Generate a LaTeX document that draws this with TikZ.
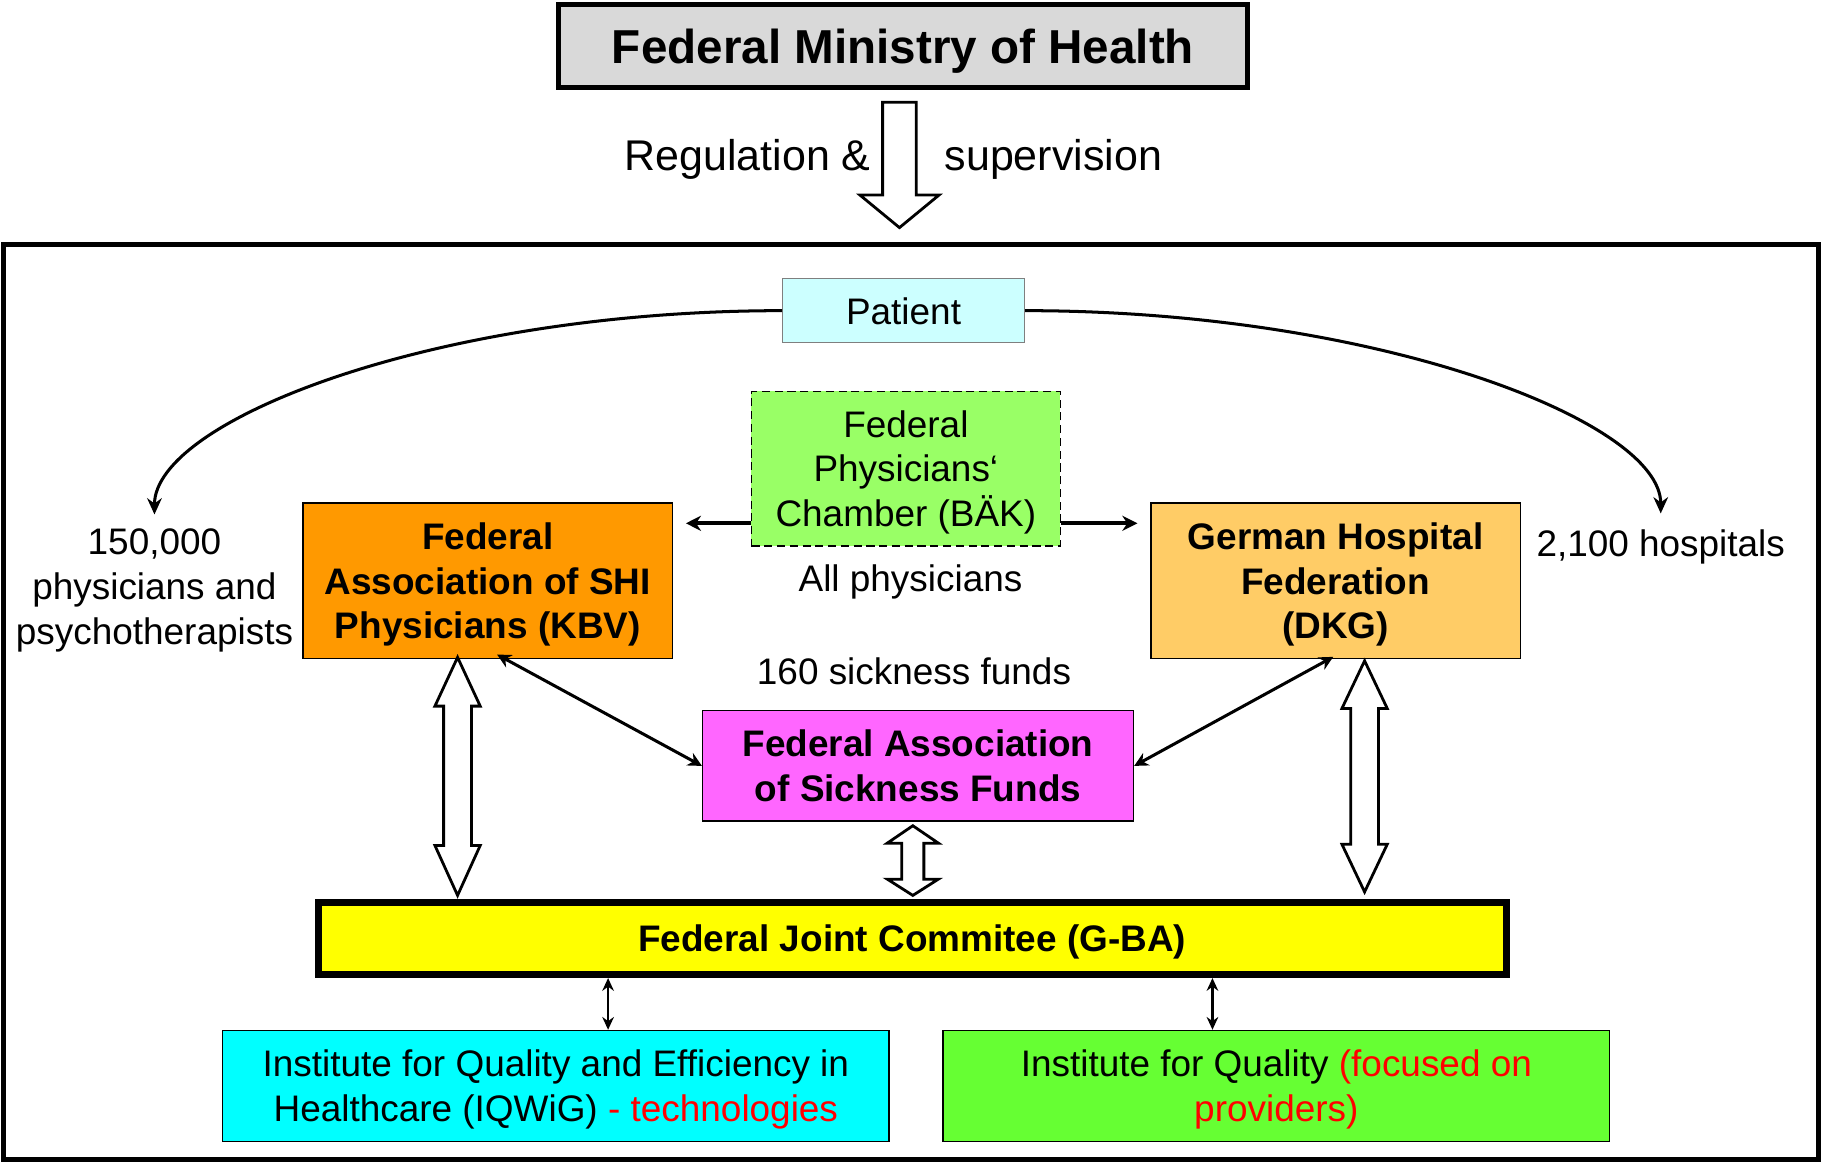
\documentclass[tikz,border=0pt]{standalone}
\usepackage{fontspec}
\setmainfont{Liberation Sans}
\usetikzlibrary{arrows.meta}

\definecolor{mingray}{HTML}{D9D9D9}
\definecolor{patcyan}{HTML}{CCFFFF}
\definecolor{patgray}{HTML}{7F7F7F}
\definecolor{bakgreen}{HTML}{99FF66}
\definecolor{kbvorange}{HTML}{FF9900}
\definecolor{dkgorange}{HTML}{FFCC66}
\definecolor{sickpink}{HTML}{FF66FF}
\definecolor{gbayellow}{HTML}{FFFF00}
\definecolor{iqwigcyan}{HTML}{00FFFF}
\definecolor{iqgreen}{HTML}{66FF33}

\begin{document}
\begin{tikzpicture}[x=0.5pt,y=0.5pt,yscale=-1,xscale=1,
  box/.style={draw, line width=0.6pt, align=center, inner sep=0pt, text depth=0pt, font=\fontsize{15.9}{19.25}\selectfont},
  bbox/.style={box, font=\fontsize{15.9}{19.25}\selectfont\bfseries},
  txt/.style={align=center, inner sep=0pt, text depth=0pt, font=\fontsize{15.9}{19.25}\selectfont},
  arr/.style={line width=1.6pt, -{Stealth[length=6.5pt,width=6.5pt]}},
  biarr/.style={line width=1.3pt, {Stealth[length=6pt,width=6pt]}-{Stealth[length=6pt,width=6pt]}},
  thinarr/.style={line width=1.2pt, {Stealth[length=5.5pt,width=5pt]}-{Stealth[length=5.5pt,width=5pt]}},
  curvearr/.style={line width=1.3pt, -{Stealth[length=7pt,width=6.3pt]}},
  blk/.style={draw, line width=1.2pt, fill=white, line join=miter}
]
\useasboundingbox (0,0) rectangle (1568,1000);

%Shape: Rectangle
\node[box, line width=2.2pt, fill=mingray, minimum width=296.5pt, minimum height=35.5pt, font=\fontsize{20.5}{24}\selectfont\bfseries] (ministry) at (777.5,39.5) {Federal Ministry of Health};
%Shape: Down Arrow
\draw[blk] (760,88) -- (789,88) -- (789,168) -- (808.5,168) -- (774.5,196) -- (740.5,168) -- (760,168) -- cycle;
% Text Node
\draw (750,133) node [txt, anchor=east, font=\fontsize{18.5}{22}\selectfont] (reg) {Regulation \&};
% Text Node
\draw (813,133) node [txt, anchor=west, font=\fontsize{18.5}{22}\selectfont] (sup) {supervision};

%Shape: Frame
\draw[line width=2.15pt] (2.6,210.5) rectangle (1565.5,998);

%Shape: Rectangle
\node[box, draw=patgray, fill=patcyan, minimum width=104pt, minimum height=27.5pt] (patient) at (778,267.5) {Patient};
%Shape: Rectangle
\node[box, dashed, dash pattern=on 3.5pt off 2pt, fill=bakgreen, minimum width=133pt, minimum height=66.5pt] (bak) at (780,403.5) {Federal\\Physicians‘\\Chamber (BÄK)};
%Shape: Rectangle
\node[bbox, fill=kbvorange, minimum width=159pt, minimum height=67pt] (kbv) at (420,500) {Federal\\Association of SHI\\Physicians (KBV)};
%Shape: Rectangle
\node[bbox, fill=dkgorange, minimum width=159pt, minimum height=67pt] (dkg) at (1150,500) {German Hospital\\Federation\\(DKG)};
%Shape: Rectangle
\node[bbox, fill=sickpink, minimum width=185.5pt, minimum height=47.5pt] (sick) at (790.5,659.5) {Federal Association\\of Sickness Funds};
%Shape: Rectangle
\node[bbox, line width=3.15pt, fill=gbayellow, minimum width=511.5pt, minimum height=31pt] (gba) at (785.5,808) {Federal Joint Commitee (G-BA)};
%Shape: Rectangle
\node[box, fill=iqwigcyan, minimum width=287pt, minimum height=47.7pt] (iqwig) at (478.6,935) {Institute for Quality and Efficiency in\\Healthcare (IQWiG) \textcolor{red}{- technologies}};
%Shape: Rectangle
\node[box, fill=iqgreen, minimum width=287pt, minimum height=47.7pt] (iq) at (1099,935) {Institute for Quality {\color{red}(focused on}\\{\color{red}providers)}};

% Text Node
\draw (133,505) node [txt] (physnum) {150,000\\physicians and\\psychotherapists};
% Text Node
\draw (1430,468) node [txt] (hosp) {2,100 hospitals};
% Text Node
\draw (784,498) node [txt] (allphys) {All physicians};
% Text Node
\draw (787,578) node [txt] (funds) {160 sickness funds};

%Curve Lines
\draw[curvearr, shorten >=6pt] (patient.west) .. controls +(-298,0) and +(0,-93) .. (physnum.north);
%Curve Lines
\draw[curvearr, shorten >=7pt] (patient.east) .. controls +(304,0) and +(0,-93) .. (hosp.north);

%Straight Lines
\coordinate (bakl) at ([yshift=-10pt]bak.south west);
\coordinate (bakr) at ([yshift=-10pt]bak.south east);
\draw[arr, shorten >=5.5pt] (bakl) -- (bakl -| kbv.east);
\draw[arr, shorten >=5.5pt] (bakr) -- (bakr -| dkg.west);

%Straight Lines
\draw[biarr] ([xshift=4pt,yshift=-2pt]kbv.south) -- (sick.west);
\draw[biarr] ([xshift=-1pt,yshift=-1pt]dkg.south) -- (sick.east);

%Shape: Up Down Arrow
\draw[blk] (394,566) -- (413.5,608) -- (406,608) -- (406,728) -- (413.5,728) -- (394,771) -- (374.5,728) -- (382,728) -- (382,608) -- (374.5,608) -- cycle;
%Shape: Up Down Arrow
\draw[blk] (1175,569) -- (1194.5,610) -- (1187,610) -- (1187,727) -- (1194.5,727) -- (1175,768) -- (1155.5,727) -- (1163,727) -- (1163,610) -- (1155.5,610) -- cycle;
%Shape: Up Down Arrow
\draw[blk] (786,711) -- (808,726) -- (795.5,726) -- (795.5,757) -- (808,757) -- (786,771) -- (764,757) -- (776.5,757) -- (776.5,726) -- (764,726) -- cycle;

%Straight Lines
\coordinate (iqwigtop) at ([xshift=22.5pt]iqwig.north);
\coordinate (iqtop) at ([xshift=-27.5pt]iq.north);
\draw[thinarr] (iqwigtop |- gba.south) -- (iqwigtop);
\draw[thinarr] (iqtop |- gba.south) -- (iqtop);

\end{tikzpicture}
\end{document}
